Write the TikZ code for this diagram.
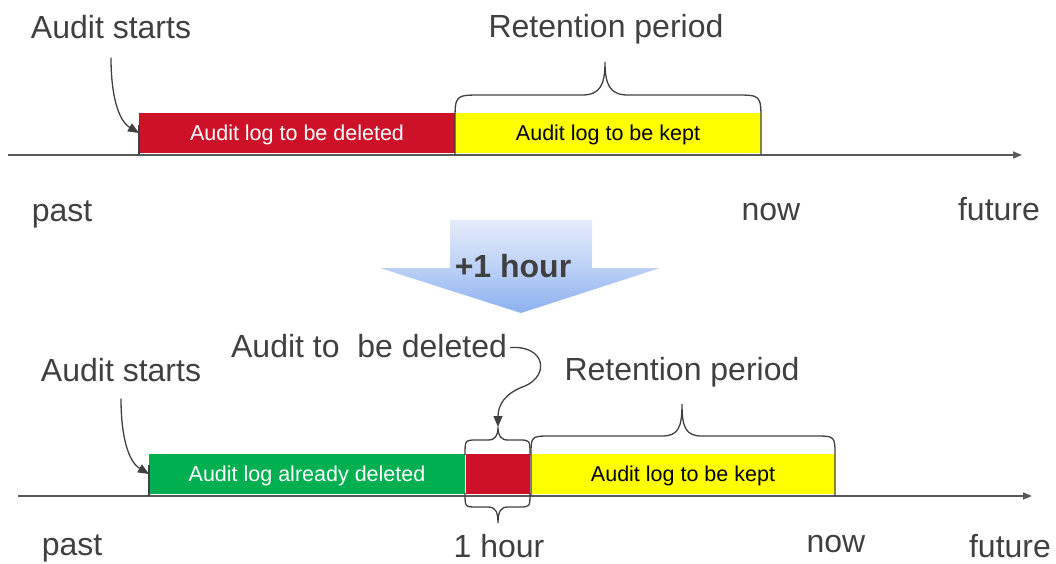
\documentclass[tikz,border=0pt]{standalone}
\usepackage{fontspec}
\setmainfont{Liberation Sans}
\usetikzlibrary{arrows.meta,calc}
\definecolor{delred}{RGB}{204,17,41}
\definecolor{keepyellow}{RGB}{255,255,0}
\definecolor{gonegreen}{RGB}{0,176,80}
\definecolor{labelgrey}{RGB}{64,64,64}
\definecolor{axisgrey}{RGB}{89,89,89}
\definecolor{hourtop}{RGB}{228,236,251}
\definecolor{hourbot}{RGB}{140,176,240}

\begin{document}
\begin{tikzpicture}[x=1pt,y=-1pt,
  big/.style={font=\fontsize{32}{38}\selectfont, text=labelgrey, inner sep=0pt, anchor=base},
  boxtext/.style={font=\fontsize{21.5}{26}\selectfont, text depth=0pt, yshift=-1pt},
  logbox/.style={minimum height=40pt, inner sep=0pt, outer sep=0pt, anchor=north west},
  axisline/.style={draw=axisgrey, line width=1.6pt, -{Triangle[length=9pt,width=7pt]}},
  brc/.style={draw=labelgrey, line width=1.3pt},
  pointer/.style={draw=labelgrey, line width=1.3pt, -{Triangle[length=11pt,width=9pt]}}]
\useasboundingbox (0,0) rectangle (1056,563);
% Top timeline: boxes
\node[logbox, fill=delred, minimum width=316pt, text=white, boxtext] (del1) at (139,112) {Audit log to be deleted};
\node[logbox, fill=keepyellow, minimum width=306pt, boxtext] (keep1) at (455,112) {Audit log to be kept};
% Top axis
\coordinate (past1) at (8,155);
\coordinate (fut1) at (1022,155);
\draw[axisline] (past1) -- (fut1);
\draw[brc] (139,125) -- (139,155); % start tick
% Retention brace (top)
\draw[brc] (455,155) -- (455,122) .. controls (455,95) .. (482,95) -- (582,95)
  .. controls (600,95) and (605,85) .. (605,62)
  .. controls (605,85) and (610,95) .. (628,95) -- (735,95)
  .. controls (761,95) .. (761,122) -- (761,155);
% Top labels
\node[big] (start1) at (111,38) {Audit starts};
\node[big] (ret1) at (606,37) {Retention period};
\node[big] (pastA) at (62,221) {past};
\node[big] (nowA) at (771,220) {now};
\node[big] (futA) at (999,220) {future};
\draw[pointer] ([yshift=-19pt]start1.south) .. controls +(0,40) and +(-20,-12) .. (del1.west);
% +1 hour arrow
\path[top color=hourtop, bottom color=hourbot, middle color=hourtop!55!hourbot]
  (450,220) -- (592,220) -- (592,268) -- (660,268) -- (521,313) -- (380,268) -- (450,268) -- cycle;
\node[big, font=\fontsize{32}{38}\selectfont\bfseries] (hour) at (513,277) {+1 hour};
% Bottom timeline: boxes
\node[logbox, fill=gonegreen, minimum width=316pt, text=white, boxtext] (gone2) at (149,453) {Audit log already deleted};
\node[logbox, fill=delred, minimum width=64pt] (del2) at (466,454) {};
\node[logbox, fill=keepyellow, minimum width=304pt, boxtext] (keep2) at (531,453) {Audit log to be kept};
% Bottom axis
\coordinate (past2) at (18,496);
\coordinate (fut2) at (1032,496);
\draw[axisline] (past2) -- (fut2);
\draw[brc] (149,465) -- (149,496); % start tick
% Retention brace (bottom)
\draw[brc] (531,496) -- (531,456) .. controls (531,436) .. (551,436) -- (662,436)
  .. controls (678,436) and (682,428) .. (682,404)
  .. controls (682,428) and (686,436) .. (702,436) -- (815,436)
  .. controls (835,436) .. (835,456) -- (835,496);
% One hour braces
\draw[brc] (465,455) .. controls (465,440) .. (477,440) -- (488,440)
  .. controls (495,440) and (498,436) .. (498,427)
  .. controls (498,436) and (501,440) .. (508,440) -- (519,440)
  .. controls (530,440) .. (530,455);
\draw[brc] (465,493) .. controls (465,507) .. (477,507) -- (488,507)
  .. controls (495,507) and (498,511) .. (498,523)
  .. controls (498,511) and (501,507) .. (508,507) -- (519,507)
  .. controls (530,507) .. (530,493);
% Bottom labels
\node[big] (start2) at (121,381) {Audit starts};
\node[big] (todel) at (369,357) {Audit to\ \ be deleted};
\node[big] (ret2) at (682,380) {Retention period};
\node[big] (hourlbl) at (499,557) {1 hour};
\node[big] (pastB) at (72,555) {past};
\node[big] (nowB) at (836,552) {now};
\node[big] (futB) at (1010,557) {future};
\draw[pointer] ([yshift=-17pt]start2.south) .. controls +(0,40) and +(-20,-12) .. (gone2.west);
\coordinate (onehr) at (498,427);
\draw[pointer] ([xshift=3pt,yshift=-2pt]todel.east) .. controls (545,345) and (550,375) .. (525,386)
  .. controls (505,393) and (498,405) .. (onehr);
\end{tikzpicture}
\end{document}
